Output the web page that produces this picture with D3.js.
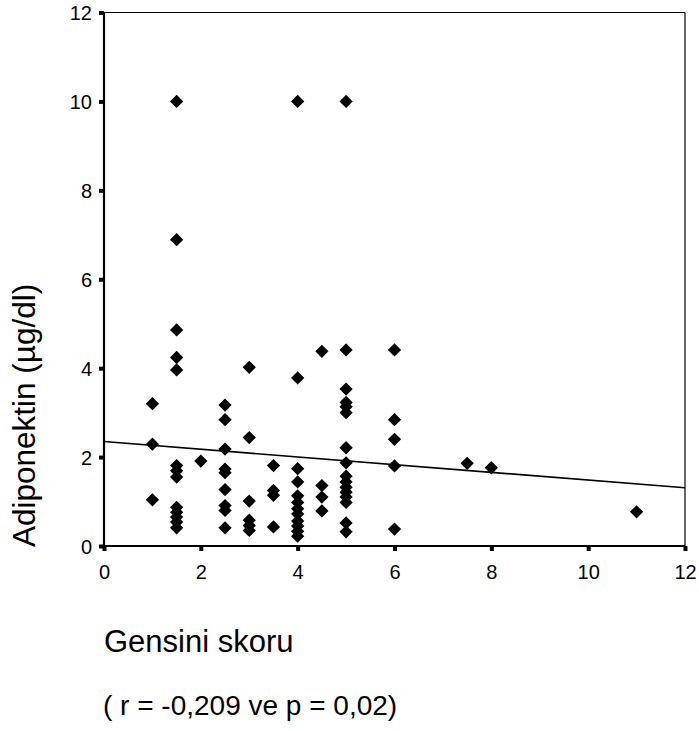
<!DOCTYPE html>
<html><head><meta charset="utf-8">
<script src="https://cdn.jsdelivr.net/npm/d3@7"></script>
<style>
html,body{margin:0;padding:0;background:#fff;}
svg{display:block;font-family:"Liberation Sans",Arial,Helvetica,sans-serif;}
</style></head>
<body><svg id="chart" width="699" height="731"></svg>
<script>
// Gensini score (x) and adiponectin (y)
const gensini = [
  1,1,1,
  1.5,1.5,1.5,1.5,1.5,1.5,1.5,1.5,1.5,1.5,1.5,1.5,1.5,
  2,
  2.5,2.5,2.5,2.5,2.5,2.5,2.5,2.5,2.5,
  3,3,3,3,3,3,
  3.5,3.5,3.5,3.5,
  4,4,4,4,4,4,4,4,4,4,4,4,
  4.5,4.5,4.5,4.5,
  5,5,5,5,5,5,5,5,5,5,5,5,5,5,5,5,
  6,6,6,6,6,
  7.5,8,11
];
const adiponektin = [
  3.2,2.29,1.04,
  10,6.89,4.86,4.24,3.96,1.81,1.69,1.55,0.87,0.76,0.65,0.54,0.41,
  1.91,
  3.17,2.84,2.18,1.73,1.65,1.27,0.91,0.8,0.41,
  4.02,2.44,1.01,0.58,0.46,0.35,
  1.81,1.25,1.14,0.43,
  10,3.78,1.74,1.44,1.13,0.98,0.84,0.72,0.56,0.45,0.33,0.22,
  4.38,1.36,1.1,0.79,
  10,4.41,3.53,3.23,3.13,3.0,2.21,1.87,1.57,1.44,1.32,1.21,1.1,0.98,0.52,0.32,
  4.41,2.84,2.4,1.8,0.38,
  1.86,1.76,0.77
];
const xTicks = [0,2,4,6,8,10,12];
const yTicks = [0,2,4,6,8,10,12];
const fitX = [0,12];
const fitY = [2.35,1.31];
const xTitle = "Gensini skoru";
const yTitle = "Adiponektin (µg/dl)";
const statText = "( r = -0,209 ve p = 0,02)";

const svg = d3.select("#chart");
const L=104, R=685, T=12.5, B=546;
const x = d3.scaleLinear().domain([0,12]).range([L,R]);
const y = d3.scaleLinear().domain([0,12]).range([B,T]);

// frame
svg.append("line").attr("x1",L).attr("x2",R).attr("y1",T).attr("y2",T).attr("stroke","#000").attr("stroke-width",1.2);
svg.append("line").attr("x1",R).attr("x2",R).attr("y1",T).attr("y2",B).attr("stroke","#000").attr("stroke-width",1.2);

const ya = svg.append("g").attr("transform",`translate(${L},0)`)
  .call(d3.axisLeft(y).tickValues(yTicks).tickSize(5).tickPadding(7).tickSizeOuter(0));
ya.select(".domain").attr("stroke-width",2.2).attr("d",`M0,${T}V${B+1}`);
ya.selectAll(".tick line").attr("stroke-width",4);
ya.selectAll(".tick text").attr("font-size",20).attr("fill","#000").attr("dy","0.35em");

const xa = svg.append("g").attr("transform",`translate(0,${B})`)
  .call(d3.axisBottom(x).tickValues(xTicks).tickSize(5).tickPadding(14).tickSizeOuter(0));
xa.select(".domain").attr("stroke-width",2.2).attr("d",`M${L-1},0H${R}`);
xa.selectAll(".tick line").attr("stroke-width",4);
xa.selectAll(".tick text").attr("font-size",20).attr("fill","#000");
svg.selectAll(".domain").attr("stroke","#000");
svg.selectAll(".tick line").attr("stroke","#000");

// fit line
svg.append("line")
  .attr("x1",x(fitX[0])).attr("y1",y(fitY[0]))
  .attr("x2",x(fitX[1])).attr("y2",y(fitY[1]))
  .attr("stroke","#000").attr("stroke-width",1.6);

// points
const sym = d3.symbol().type(d3.symbolSquare).size(88);
svg.append("g").selectAll("path").data(gensini.map((g,i)=>[g,adiponektin[i]]))
  .join("path")
  .attr("d",sym)
  .attr("transform",d=>`translate(${x(d[0])},${y(d[1])}) rotate(45)`)
  .attr("fill","#000");

// titles
svg.append("text").attr("transform","translate(35,547) rotate(-90)")
  .attr("font-size",31.5).attr("text-anchor","start").text(yTitle);
svg.append("text").attr("x",104).attr("y",652).attr("font-size",31).text(xTitle);
svg.append("text").attr("x",103).attr("y",715).attr("font-size",28).text(statText);
</script></body></html>
